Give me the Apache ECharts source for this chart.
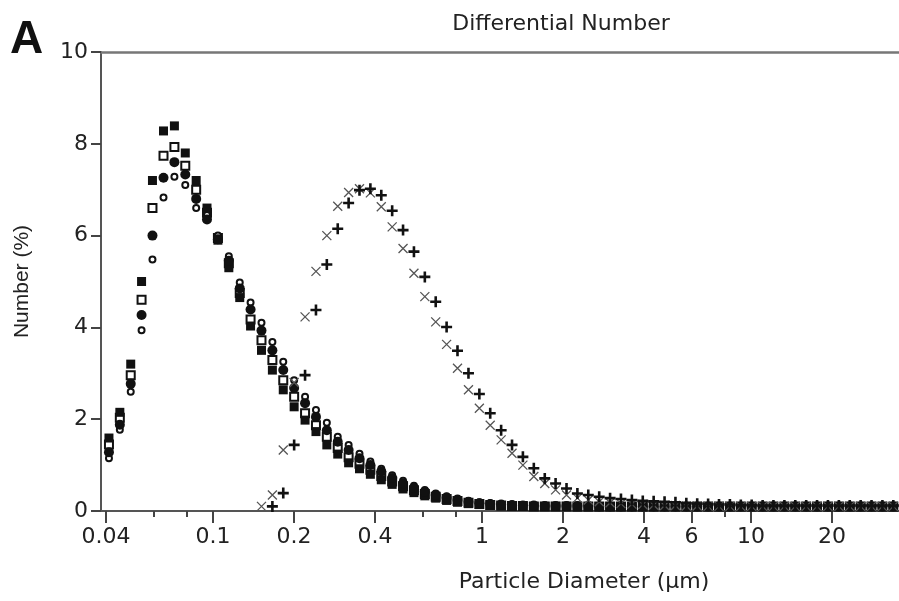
<!DOCTYPE html>
<html>
<head>
<meta charset="utf-8">
<script src="https://cdn.jsdelivr.net/npm/echarts@6/dist/echarts.min.js"></script>
<style>
  html, body { margin: 0; padding: 0; background: #fff; }
  #chart { width: 899px; height: 601px; }
</style>
</head>
<body>
<div id="chart"></div>
<script>
// channel diameters (um)
var diameters = [0.0410, 0.0450, 0.0494, 0.0542, 0.0595, 0.0654, 0.0718, 0.0788, 0.0865, 0.0949,
  0.1042, 0.1144, 0.1256, 0.1378, 0.1513, 0.1661, 0.1823, 0.2001, 0.2197, 0.2412,
  0.2647, 0.2906, 0.3190, 0.3501, 0.3843, 0.4219, 0.4631, 0.5083, 0.5580, 0.6125,
  0.6723, 0.7380, 0.8101, 0.8899, 0.9768, 1.072, 1.177, 1.292, 1.418, 1.557,
  1.710, 1.876, 2.060, 2.261, 2.482, 2.725, 2.991, 3.283, 3.605, 3.957,
  4.343, 4.768, 5.234, 5.745, 6.306, 6.923, 7.599, 8.342, 9.158, 10.05,
  11.04, 12.11, 13.30, 14.60, 16.03, 17.59, 19.31, 21.20, 23.27, 25.55,
  28.04, 30.78, 33.79, 37.10];

var filledSquare = [1.59, 2.15, 3.2, 5.0, 7.2, 8.28, 8.39, 7.8, 7.2, 6.6,
  5.9, 5.3, 4.65, 4.03, 3.5, 3.07, 2.64, 2.27, 1.98, 1.73,
  1.44, 1.24, 1.05, 0.92, 0.8, 0.68, 0.58, 0.48, 0.4, 0.33,
  0.28, 0.23, 0.19, 0.16, 0.14, 0.12, 0.11, 0.11, 0.1, 0.1,
  0.1, 0.1, 0.1, 0.09, 0.09, 0.09, 0.09, 0.09, 0.09, 0.09,
  0.09, 0.09, 0.09, 0.09, 0.09, 0.09, 0.09, 0.09, 0.09, 0.09,
  0.09, 0.09, 0.09, 0.09, 0.09, 0.09, 0.09, 0.09, 0.09, 0.09,
  0.09, 0.09, 0.09, 0.09];

var openSquare = [1.45, 2.03, 2.96, 4.6, 6.6, 7.74, 7.93, 7.52, 7.0, 6.5,
  5.95, 5.4, 4.75, 4.17, 3.72, 3.29, 2.85, 2.49, 2.13, 1.87,
  1.62, 1.37, 1.17, 1.03, 0.9, 0.76, 0.64, 0.54, 0.45, 0.37,
  0.31, 0.26, 0.22, 0.18, 0.15, 0.13, 0.12, 0.11, 0.11, 0.1,
  0.1, 0.1, 0.1, 0.1, 0.1, 0.1, 0.1, 0.1, 0.1, 0.1,
  0.1, 0.1, 0.1, 0.1, 0.1, 0.1, 0.1, 0.1, 0.1, 0.1,
  0.1, 0.1, 0.1, 0.1, 0.1, 0.1, 0.1, 0.1, 0.1, 0.1,
  0.1, 0.1, 0.1, 0.1];

var filledCircle = [1.28, 1.88, 2.77, 4.27, 6.0, 7.26, 7.6, 7.33, 6.8, 6.35,
  5.92, 5.45, 4.85, 4.39, 3.93, 3.5, 3.07, 2.68, 2.35, 2.05,
  1.76, 1.51, 1.33, 1.15, 1.0, 0.86, 0.72, 0.6, 0.5, 0.42,
  0.35, 0.29, 0.24, 0.2, 0.17, 0.15, 0.14, 0.13, 0.12, 0.12,
  0.11, 0.11, 0.11, 0.11, 0.11, 0.1, 0.1, 0.1, 0.1, 0.1,
  0.1, 0.1, 0.1, 0.1, 0.1, 0.1, 0.1, 0.1, 0.1, 0.1,
  0.1, 0.1, 0.1, 0.1, 0.1, 0.1, 0.1, 0.1, 0.1, 0.1,
  0.1, 0.1, 0.1, 0.1];

var openCircle = [1.15, 1.77, 2.6, 3.94, 5.48, 6.83, 7.28, 7.1, 6.6, 6.45,
  6.0, 5.55, 4.98, 4.54, 4.1, 3.68, 3.25, 2.85, 2.49, 2.2,
  1.92, 1.62, 1.44, 1.25, 1.08, 0.92, 0.78, 0.66, 0.55, 0.46,
  0.38, 0.32, 0.27, 0.22, 0.19, 0.17, 0.15, 0.14, 0.13, 0.13,
  0.12, 0.12, 0.12, 0.11, 0.11, 0.11, 0.11, 0.11, 0.11, 0.11,
  0.11, 0.11, 0.11, 0.11, 0.11, 0.11, 0.11, 0.11, 0.11, 0.11,
  0.11, 0.11, 0.11, 0.11, 0.11, 0.11, 0.11, 0.11, 0.11, 0.11,
  0.11, 0.11, 0.11, 0.11];

var crossX = [null, null, null, null, null, null, null, null, null, null,
  null, null, null, null, 0.1, 0.35, 1.33, 2.8, 4.23, 5.22,
  6.0, 6.64, 6.94, 7.02, 6.93, 6.63, 6.19, 5.72, 5.18, 4.67,
  4.12, 3.63, 3.11, 2.64, 2.24, 1.87, 1.55, 1.26, 1.0, 0.75,
  0.6, 0.46, 0.35, 0.28, 0.24, 0.2, 0.18, 0.16, 0.15, 0.14,
  0.13, 0.12, 0.12, 0.11, 0.11, 0.1, 0.1, 0.1, 0.1, 0.1,
  0.1, 0.1, 0.1, 0.1, 0.1, 0.1, 0.1, 0.1, 0.1, 0.1,
  0.1, 0.1, 0.1, 0.1];

var plusMark = [null, null, null, null, null, null, null, null, null, null,
  null, null, null, null, null, 0.1, 0.39, 1.44, 2.96, 4.38,
  5.37, 6.15, 6.71, 6.99, 7.02, 6.88, 6.54, 6.12, 5.65, 5.1,
  4.56, 4.01, 3.49, 3.0, 2.55, 2.13, 1.76, 1.44, 1.18, 0.93,
  0.71, 0.6, 0.49, 0.38, 0.35, 0.31, 0.28, 0.26, 0.24, 0.22,
  0.21, 0.2, 0.19, 0.17, 0.16, 0.15, 0.14, 0.14, 0.13, 0.13,
  0.12, 0.12, 0.12, 0.12, 0.12, 0.12, 0.12, 0.12, 0.12, 0.12,
  0.12, 0.12, 0.12, 0.12];

var majorTicks = [0.04, 0.1, 0.2, 0.4, 1, 2, 4, 6, 10, 20, 40];
var majorLabels = ['0.04', '0.1', '0.2', '0.4', '1', '2', '4', '6', '10', '20', '40'];
var minorTicks = [0.06, 0.08, 0.6, 0.8, 8];

var font = 'Liberation Sans, Arial, sans-serif';
var wideFont = 'DejaVu Sans, sans-serif';

function toPoints(vals) {
  var out = [];
  for (var i = 0; i < vals.length; i++) {
    if (vals[i] !== null) out.push([Math.log10(diameters[i]), vals[i]]);
  }
  return out;
}

var xMin = Math.log10(0.0383);
var xMax = Math.log10(42.1);

var baseX = {
  type: 'value',
  min: xMin,
  max: xMax,
  splitLine: { show: false }
};

var chart = echarts.init(document.getElementById('chart'));
chart.setOption({
  animation: false,
  backgroundColor: '#fff',
  title: [
    { text: 'A', left: 5, top: 12, textStyle: { fontFamily: font, fontSize: 46, fontWeight: 'bold', color: '#111' } },
    { text: 'Differential Number', left: 556, top: 8, textAlign: 'center',
      textStyle: { fontFamily: wideFont, fontSize: 22, fontWeight: 'normal', color: '#222' } },
    { text: 'Particle Diameter (\u00b5m)', left: 579, top: 566, textAlign: 'center',
      textStyle: { fontFamily: wideFont, fontSize: 22, fontWeight: 'normal', color: '#222' } }
  ],
  grid: { left: 101, top: 52, width: 818, height: 459, outerBoundsMode: 'none', containLabel: false },
  xAxis: [
    Object.assign({}, baseX, {
      position: 'bottom',
      axisLine: { show: true, onZero: false, lineStyle: { color: '#555', width: 2 } },
      axisTick: { show: true, length: 12, customValues: majorTicks.map(Math.log10),
        lineStyle: { color: '#444', width: 2 } },
      axisLabel: {
        customValues: majorTicks.map(Math.log10),
        fontFamily: wideFont, fontSize: 22, color: '#222', margin: 15,
        formatter: function (v) {
          for (var i = 0; i < majorTicks.length; i++) {
            if (Math.abs(Math.log10(majorTicks[i]) - v) < 1e-6) return majorLabels[i];
          }
          return '';
        }
      }
    }),
    Object.assign({}, baseX, {
      position: 'bottom',
      axisLine: { show: false, onZero: false },
      axisTick: { show: true, length: 6, customValues: minorTicks.map(Math.log10),
        lineStyle: { color: '#444', width: 2 } },
      axisLabel: { show: false }
    }),
    Object.assign({}, baseX, {
      position: 'top',
      axisLine: { show: true, onZero: false, lineStyle: { color: '#777', width: 2.5 } },
      axisTick: { show: false },
      axisLabel: { show: false }
    })
  ],
  yAxis: {
    type: 'value',
    min: 0,
    max: 10,
    interval: 2,
    name: 'Number (%)',
    nameLocation: 'middle',
    nameGap: 68,
    nameTextStyle: { fontFamily: font, fontSize: 21, color: '#222' },
    axisLine: { show: true, onZero: false, lineStyle: { color: '#555', width: 2 } },
    axisTick: { show: true, length: 10, lineStyle: { color: '#444', width: 2 } },
    axisLabel: { fontFamily: wideFont, fontSize: 22, color: '#222', margin: 13 },
    splitLine: { show: false }
  },
  series: [
    { name: 'open square', type: 'scatter', symbol: 'emptyRect', symbolSize: 8,
      itemStyle: { color: '#111', borderColor: '#111', borderWidth: 1.5, opacity: 1 }, data: toPoints(openSquare) },
    { name: 'open circle', type: 'scatter', symbol: 'emptyCircle', symbolSize: 6,
      itemStyle: { color: '#111', borderColor: '#111', borderWidth: 1.3, opacity: 1 }, data: toPoints(openCircle) },
    { name: 'filled square', type: 'scatter', symbol: 'rect', symbolSize: 9,
      itemStyle: { color: '#111', opacity: 1 }, data: toPoints(filledSquare) },
    { name: 'filled circle', type: 'scatter', symbol: 'circle', symbolSize: 10,
      itemStyle: { color: '#111', opacity: 1 }, data: toPoints(filledCircle) },
    { name: 'cross', type: 'scatter', symbol: 'path://M0,0L10,10M10,0L0,10', symbolSize: 9,
      itemStyle: { color: 'transparent', borderColor: '#555', borderWidth: 1.3, opacity: 1 }, data: toPoints(crossX) },
    { name: 'plus', type: 'scatter', symbol: 'path://M5,0L5,10M0,5L10,5', symbolSize: 11,
      itemStyle: { color: 'transparent', borderColor: '#111', borderWidth: 2.6, opacity: 1 }, data: toPoints(plusMark) }
  ]
});
</script>
</body>
</html>
